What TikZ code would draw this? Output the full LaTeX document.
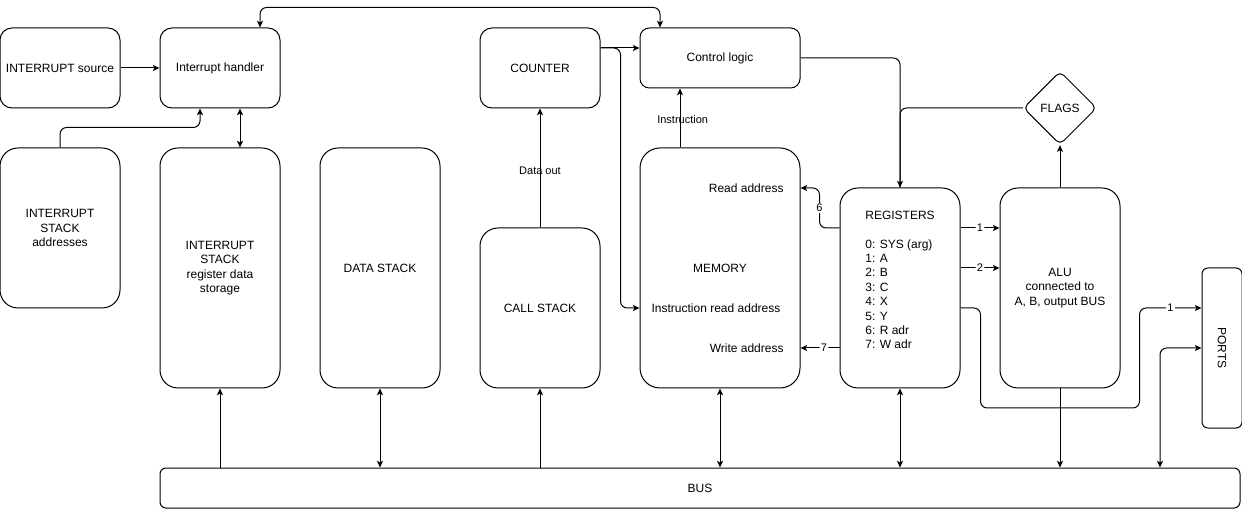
\documentclass[tikz,border=0pt]{standalone}
\usepackage{fontspec}
\setmainfont{Liberation Sans}
\usetikzlibrary{calc, arrows.meta, shapes.geometric}

\begin{document}
\begin{tikzpicture}[x=0.75pt, y=-0.75pt, line width=0.75pt,
    font=\fontsize{9}{10.8}\selectfont,
    block/.style={draw, rounded corners=9pt, minimum width=90pt,
      minimum height=60pt, align=center, inner sep=2pt},
    tall/.style={block, rounded corners=13.5pt},
    conn/.style={-{Stealth[length=5pt, width=4.5pt, inset=1.2pt]},
      rounded corners=5pt},
    both/.style={{Stealth[length=5pt, width=4.5pt, inset=1.2pt]}-{Stealth[length=5pt, width=4.5pt, inset=1.2pt]},
      rounded corners=5pt},
    elab/.style={font=\fontsize{8.25}{9.9}\selectfont, inner sep=1pt},
    nlab/.style={elab, fill=white}]
  \useasboundingbox (0, 0) rectangle (1242, 509);

  % blocks
  \node[block] (isrc) at (60, 68) {INTERRUPT source};
  \node[block] (handler) at (220, 68) {Interrupt handler};
  \node[tall, minimum height=120pt] (stackaddr) at (60, 228)
    {INTERRUPT\\STACK\\addresses};
  \node[tall, minimum height=180pt] (storage) at (220, 268)
    {INTERRUPT\\STACK\\register data\\storage};
  \node[tall, minimum height=180pt] (dstack) at (380, 268) {DATA STACK};
  \node[block] (counter) at (540, 68) {COUNTER};
  \node[tall, minimum height=120pt] (callstack) at (540, 308) {CALL STACK};
  \node[block, rounded corners=7pt, minimum width=120pt, minimum height=45pt]
    (ctrl) at (720, 58) {Control logic};
  \node[block, rounded corners=15pt, minimum width=120pt, minimum height=180pt]
    (mem) at (720, 268) {MEMORY};
  \node[anchor=east] (rdaddr) at ($(mem.east)+(-12, -80)$) {Read address};
  \node (iaddr) at ($(mem.center)+(-4, 40)$) {Instruction read address};
  \node[anchor=east] (wraddr) at ($(mem.east)+(-12, 80)$) {Write address};
  \node[tall, minimum height=150pt, align=left] (regs) at (900, 288)
    {REGISTERS\\[10.8pt]0: SYS (arg)\\1: A\\2: B\\3: C\\4: X\\5: Y\\6: R adr\\7: W adr\\[-2pt]\strut};
  \node[tall, minimum height=150pt] (alu) at (1060, 288)
    {ALU\\connected to\\A, B, output BUS};
  \node[draw, diamond, aspect=1, minimum width=55pt, minimum height=55pt,
    inner sep=0pt, rounded corners=4pt] (flags) at (1060, 108) {FLAGS};
  \node[block, rounded corners=4.5pt, minimum width=30pt, minimum height=120pt]
    (ports) at (1222, 348) {\rotatebox{-90}{PORTS}};
  \node[block, rounded corners=4.5pt, minimum width=810pt, minimum height=30pt]
    (bus) at (700, 488) {BUS};

  % interrupt side
  \draw[conn] (isrc) -- (handler);
  \draw[conn] (stackaddr.north) -- ++(0, -20) -| ($(handler.south)+(-20, 0)$);
  \draw[both] ($(handler.south)+(20, 0)$) -- ($(storage.north)+(20, 0)$);
  \draw[both] ($(handler.north)+(40, 0)$) -- ++(0, -20) -| ($(ctrl.north)+(-60, 0)$);

  % counter and control
  \draw[conn] ($(counter.east)+(0, -20)$) -- ($(ctrl.west)+(0, -10)$);
  \draw[conn] ($(counter.east)+(0, -20)$) -- ++(20, 0) |- ($(mem.west)+(0, 40)$);
  \draw[conn] ($(mem.north)+(-40, 0)$) -- node[elab, pos=0.47, xshift=2pt] {Instruction}
    ($(ctrl.south)+(-40, 0)$);
  \draw[conn] (callstack.north) -- node[elab, pos=0.48] {Data out} (counter.south);
  \draw[conn] (ctrl.east) -| (regs.north);
  \draw[rounded corners=5pt] (flags.west) -| (regs.north);
  \draw[conn] (alu.north) -- (flags.south);

  % registers
  \draw[conn] ($(regs.west)+(0, -60)$) -- ++(-20, 0) |- node[nlab, pos=0.25] {6}
    ($(mem.east)+(0, -80)$);
  \draw[conn] ($(regs.west)+(0, 60)$) -- node[nlab, pos=0.4] {7} ($(mem.east)+(0, 80)$);
  \draw[conn] ($(regs.east)+(0, -60)$) -- node[nlab] {1} ($(alu.west)+(0, -60)$);
  \draw[conn] ($(regs.east)+(0, -20)$) -- node[nlab] {2} ($(alu.west)+(0, -20)$);
  \draw[conn] ($(regs.east)+(0, 20)$) -- ++(20, 0) -- ++(0, 100)
    -| ($(ports.west)+(-62, -40)$) -- node[nlab] {1} ($(ports.west)+(0, -40)$);
  \draw[both] ($(bus.north)+(460, 0)$) |- (ports.west);

  % bus
  \draw[conn] (bus.north -| storage.south) -- (storage.south);
  \draw[both] (dstack.south) -- (dstack.south |- bus.north);
  \draw[conn] (bus.north -| callstack.south) -- (callstack.south);
  \draw[both] (mem.south) -- (mem.south |- bus.north);
  \draw[both] (regs.south) -- (regs.south |- bus.north);
  \draw[conn] (alu.south) -- (alu.south |- bus.north);
\end{tikzpicture}
\end{document}
